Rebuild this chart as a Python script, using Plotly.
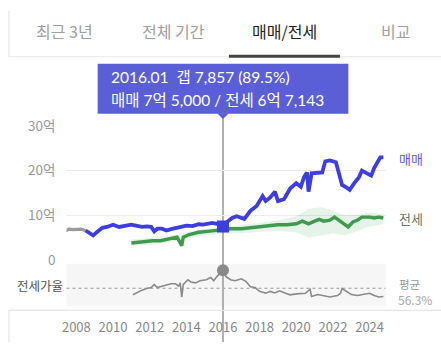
import plotly.graph_objects as go

# ---------------- data ----------------
tabs = ["최근 3년", "전체 기간", "매매/전세", "비교"]
active_tab = "매매/전세"

early_dates = ["2007-06", "2007-08", "2007-11", "2008-02", "2008-04", "2008-07"]
early_vals = [6.5, 6.9, 6.8, 6.8, 6.9, 6.6]

sale_dates = ["2008-07", "2008-09", "2008-12", "2009-03", "2009-06", "2009-09", "2010-01", "2010-05",
              "2010-08", "2011-01", "2011-04", "2011-08", "2011-11", "2012-02", "2012-04", "2012-06",
              "2012-09", "2012-12", "2013-03", "2013-06", "2013-10", "2014-01", "2014-05", "2014-09",
              "2014-12", "2015-03", "2015-06", "2015-09", "2016-01", "2016-04", "2016-07", "2016-10",
              "2017-01", "2017-03", "2017-07", "2017-11", "2018-03", "2018-05", "2018-08", "2018-11",
              "2019-01", "2019-05", "2019-09", "2020-01", "2020-04", "2020-06", "2020-08", "2020-09",
              "2020-11", "2021-03", "2021-06", "2021-08", "2021-11", "2022-03", "2022-05", "2022-07",
              "2022-10", "2022-12", "2023-03", "2023-06", "2023-08", "2023-11", "2024-02", "2024-04",
              "2024-06", "2024-08", "2024-10"]
sale_vals = [6.6, 6.2, 5.5, 6.4, 7.2, 7.4, 7.9, 7.4,
             7.6, 7.9, 7.7, 7.4, 7.5, 7.4, 6.4, 7.0,
             7.0, 6.6, 6.9, 7.2, 7.4, 7.7, 7.6, 8.0,
             7.9, 8.2, 8.3, 8.1, 7.5, 8.6, 9.4, 9.8,
             9.5, 9.2, 11.0, 12.1, 14.3, 13.2, 14.0, 15.3,
             13.2, 13.6, 16.0, 17.2, 16.4, 18.5, 19.6, 15.3,
             19.4, 19.5, 19.6, 22.1, 22.3, 21.9, 19.6, 16.8,
             16.2, 15.7, 17.2, 18.5, 20.0, 19.4, 18.9, 20.6,
             21.7, 23.0, 23.0]

jeonse_dates = ["2011-01", "2011-06", "2011-11", "2012-03", "2012-08", "2013-01", "2013-07", "2013-10",
                "2013-11", "2014-03", "2014-09", "2015-03", "2015-09", "2016-01", "2016-06", "2017-01",
                "2017-07", "2018-01", "2018-07", "2019-01", "2019-07", "2020-01", "2020-05", "2020-09",
                "2021-01", "2021-04", "2021-07", "2021-11", "2022-02", "2022-05", "2022-08", "2022-11",
                "2023-02", "2023-05", "2023-08", "2024-01", "2024-04", "2024-07", "2024-10"]
jeonse_vals = [3.8, 4.0, 4.1, 4.3, 4.3, 4.7, 5.1, 3.2,
               5.1, 5.7, 6.2, 6.4, 6.6, 6.7143, 7.0, 7.0,
               7.2, 7.4, 7.7, 7.9, 7.9, 8.1, 8.7, 8.1,
               8.7, 9.1, 8.7, 8.9, 9.6, 8.9, 8.3, 7.4,
               8.5, 8.9, 9.6, 9.6, 9.4, 9.6, 9.4]

band_dates = ["2011-01", "2012-01", "2013-01", "2014-01", "2015-01", "2016-01", "2017-01", "2018-01",
              "2019-01", "2020-01", "2020-09", "2021-06", "2022-01", "2022-09", "2023-06", "2024-01", "2024-10"]
band_upper = [4.6, 4.9, 5.4, 6.2, 7.0, 7.4, 7.8, 8.3, 8.9, 9.8, 11.5, 11.8, 11.0, 10.0, 10.2, 10.6, 10.3]
band_lower = [3.2, 3.4, 3.9, 4.8, 5.5, 5.9, 6.0, 6.3, 6.5, 6.2, 5.0, 5.5, 6.0, 5.5, 6.6, 7.5, 8.0]

ratio_dates = ["2011-02", "2011-05", "2011-08", "2011-11", "2012-02", "2012-04", "2012-06", "2012-09",
               "2012-12", "2013-03", "2013-06", "2013-08", "2013-09", "2013-10", "2013-11", "2014-02",
               "2014-04", "2014-07", "2014-10", "2015-02", "2015-05", "2015-07", "2015-09", "2016-01",
               "2016-03", "2016-06", "2016-09", "2017-01", "2017-04", "2017-07", "2017-10", "2018-01",
               "2018-05", "2018-08", "2018-11", "2019-02", "2019-06", "2019-09", "2020-01", "2020-04",
               "2020-07", "2020-10", "2020-11", "2021-03", "2021-07", "2021-11", "2022-04", "2022-06",
               "2022-07", "2022-10", "2023-01", "2023-05", "2023-10", "2024-01", "2024-04", "2024-07",
               "2024-10"]
ratio_vals = [44.1, 48.8, 52.8, 55.8, 57.5, 63.3, 57.5, 59.8,
              61.5, 64.5, 64.5, 60.4, 66.2, 40.0, 63.3, 72.0,
              68.0, 66.2, 70.3, 72.0, 76.1, 70.3, 77.8, 89.5,
              77.8, 72.0, 70.3, 73.8, 69.1, 59.2, 57.5, 50.5,
              47.0, 50.5, 47.6, 51.6, 47.0, 44.1, 45.8, 45.8,
              47.0, 54.6, 41.1, 44.6, 42.8, 40.0, 42.8, 47.0,
              55.8, 50.5, 44.6, 42.8, 44.6, 47.0, 42.8, 40.0,
              41.1]
ratio_avg = 56.3

year_ticks = [2008, 2010, 2012, 2014, 2016, 2018, 2020, 2022, 2024]
y_ticks = [0, 10, 20, 30]
y_tick_text = ["0", "10억", "20억", "30억"]

sel_date = "2016-01"

# ---------------- helpers ----------------
W, H = 441, 351
def px(x):
    return x / W
def py(y):
    return (H - y) / H

def fmt_eok(v):
    man = int(round(v * 10000))
    e, r = divmod(man, 10000)
    return f"{e}억 {r:,}" if e else f"{r:,}"

BLUE = "#3d3de0"
GREEN = "#3f9a4e"
KFONT = "Noto Sans CJK KR, Noto Sans, sans-serif"
TFONT = "Lato, Noto Sans CJK KR, sans-serif"

fig = go.Figure()

fig.add_trace(go.Scatter(x=band_dates + band_dates[::-1], y=band_upper + band_lower[::-1],
                         fill="toself", fillcolor="rgba(80,170,100,0.14)", line=dict(width=0),
                         mode="lines", hoverinfo="skip", showlegend=False, xaxis="x", yaxis="y"))
fig.add_trace(go.Scatter(x=early_dates, y=early_vals, mode="lines",
                         line=dict(color="#9a9a9a", width=3.2), showlegend=False, xaxis="x", yaxis="y"))
fig.add_trace(go.Scatter(x=jeonse_dates, y=jeonse_vals, mode="lines",
                         line=dict(color=GREEN, width=3.4), showlegend=False, xaxis="x", yaxis="y"))
fig.add_trace(go.Scatter(x=sale_dates, y=sale_vals, mode="lines",
                         line=dict(color=BLUE, width=3.8), showlegend=False, xaxis="x", yaxis="y"))
fig.add_trace(go.Scatter(x=ratio_dates, y=ratio_vals, mode="lines",
                         line=dict(color="#8a8a8a", width=1.6), showlegend=False, xaxis="x", yaxis="y2"))

si = sale_dates.index(sel_date)
ji = jeonse_dates.index(sel_date)
ri = ratio_dates.index(sel_date)
fig.add_trace(go.Scatter(x=[sel_date], y=[sale_vals[si]], mode="markers",
                         marker=dict(color=BLUE, size=12, symbol="square", line=dict(width=0)),
                         showlegend=False, xaxis="x", yaxis="y"))
fig.add_trace(go.Scatter(x=[sel_date], y=[ratio_vals[ri]], mode="markers",
                         marker=dict(color="#8a8a8a", size=12), showlegend=False, xaxis="x", yaxis="y2"))

x_dom = [px(63), px(385)]
fig.update_layout(
    width=W, height=H, margin=dict(l=0, r=0, t=0, b=0),
    paper_bgcolor="white", plot_bgcolor="rgba(0,0,0,0)",
    showlegend=False,
    xaxis=dict(domain=x_dom, type="date", range=["2007-06-17", "2024-11-13"],
               anchor="free", position=py(326), showline=False, showgrid=False, zeroline=False,
               tickvals=[f"{y}-01-01" for y in year_ticks], ticktext=[str(y) for y in year_ticks],
               ticks="", tickfont=dict(family=KFONT, size=13, color="#888")),
    yaxis=dict(domain=[py(264), py(122)], range=[0, 30], tickvals=y_ticks, ticktext=y_tick_text,
               showgrid=True, gridcolor="#ececec", gridwidth=1, zeroline=False, showline=False,
               ticks="", ticklabelstandoff=10, tickfont=dict(family=KFONT, size=13.5, color="#999"),
               anchor="x"),
    yaxis2=dict(domain=[py(313), py(268)], range=[23.1, 101.7], visible=False, anchor="x"),
)

shapes = []
shapes.append(dict(type="rect", xref="x domain", yref="y2 domain", x0=0, x1=1, y0=0, y1=1,
                   fillcolor="#f6f6f6", line=dict(width=0), layer="below"))
shapes.append(dict(type="line", xref="x domain", yref="y2", x0=0, x1=1, y0=ratio_avg, y1=ratio_avg,
                   line=dict(color="#9a9a9a", width=1.2, dash="dot"), layer="below"))
shapes.append(dict(type="line", xref="paper", yref="paper", x0=px(5), x1=1, y0=py(317.5), y1=py(317.5),
                   line=dict(color="#e6e6e6", width=1.2)))
shapes.append(dict(type="line", xref="paper", yref="paper", x0=px(5), x1=1, y0=py(48.5), y1=py(48.5),
                   line=dict(color="#e6e6e6", width=1.2)))
shapes.append(dict(type="line", xref="paper", yref="paper", x0=px(5), x1=px(5), y0=py(0), y1=py(48.5),
                   line=dict(color="#e6e6e6", width=1.2)))
shapes.append(dict(type="line", xref="paper", yref="paper", x0=px(5), x1=px(5), y0=py(317.5), y1=py(351),
                   line=dict(color="#e6e6e6", width=1.2)))
shapes.append(dict(type="line", xref="paper", yref="paper", x0=px(227), x1=px(339), y0=py(48), y1=py(48),
                   line=dict(color="#444", width=3)))
shapes.append(dict(type="line", xref="x", yref="paper", x0=sel_date, x1=sel_date, y0=0, y1=py(112),
                   line=dict(color="#b0b0b0", width=2), layer="below"))
TIP = "#5a5fd8"
shapes.append(dict(type="rect", xref="paper", yref="paper", x0=px(94.5), x1=px(347.5), y0=py(109), y1=py(56),
                   fillcolor=TIP, line=dict(width=0)))
shapes.append(dict(type="path", xref="paper", yref="paper",
                   path=f"M {px(215)} {py(108.5)} L {px(227)} {py(108.5)} L {px(221)} {py(114.5)} Z",
                   fillcolor=TIP, line=dict(width=0)))
fig.update_layout(shapes=shapes)

ann = []
tab_x = [61, 171, 283, 395]
for t, x in zip(tabs, tab_x):
    ann.append(dict(text=t, x=px(x), y=py(21), xref="paper", yref="paper", showarrow=False,
                    xanchor="center", yanchor="middle",
                    font=dict(family=KFONT, size=16, color="#222" if t == active_tab else "#a0a0a0")))

gap = sale_vals[si] - jeonse_vals[ji]
pct = jeonse_vals[ji] / sale_vals[si] * 100
yr, mo = sel_date.split("-")
line1 = f"{yr}.{mo}  갭 {fmt_eok(gap)} ({pct:.1f}%)"
line2 = f"매매 {fmt_eok(sale_vals[si])} / 전세 {fmt_eok(jeonse_vals[ji])}"
ann.append(dict(text=line1, x=px(106), y=py(70), xref="paper", yref="paper", showarrow=False,
                xanchor="left", yanchor="middle", font=dict(family=TFONT, size=15.5, color="white")))
ann.append(dict(text=line2, x=px(106), y=py(94), xref="paper", yref="paper", showarrow=False,
                xanchor="left", yanchor="middle", font=dict(family=TFONT, size=15.5, color="white")))

ann.append(dict(text="매매", x=px(397), y=py(156), xref="paper", yref="paper", showarrow=False,
                xanchor="left", yanchor="middle", font=dict(family=KFONT, size=13, color="#5a5fd8")))
ann.append(dict(text="전세", x=px(397), y=py(220), xref="paper", yref="paper", showarrow=False,
                xanchor="left", yanchor="middle", font=dict(family=KFONT, size=13, color="#667766")))
ann.append(dict(text="전세가율", x=px(11), y=py(291), xref="paper", yref="paper", showarrow=False,
                xanchor="left", yanchor="middle", font=dict(family=KFONT, size=12.5, color="#555")))
ann.append(dict(text="평균", x=px(397), y=py(289.5), xref="paper", yref="paper", showarrow=False,
                xanchor="left", yanchor="middle", font=dict(family=KFONT, size=11.5, color="#999")))
ann.append(dict(text=f"{ratio_avg}%", x=px(396), y=py(306), xref="paper", yref="paper", showarrow=False,
                xanchor="left", yanchor="middle", font=dict(family=KFONT, size=12, color="#aaa")))
fig.update_layout(annotations=ann)

fig.write_html("out.html")
